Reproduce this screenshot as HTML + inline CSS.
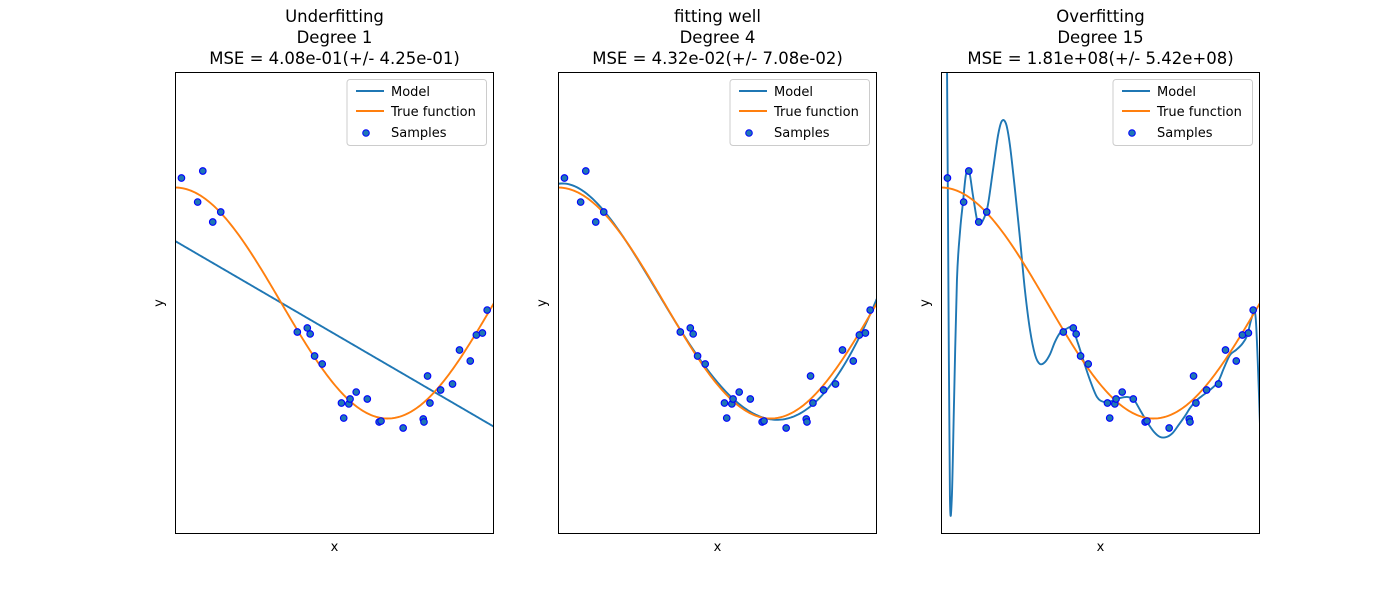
<!DOCTYPE html>
<html><head><meta charset="utf-8"><style>
body{margin:0;background:#fff;}
svg{display:block;font-family:"DejaVu Sans","Liberation Sans",sans-serif;}
</style></head><body>
<svg id="chart" width="1400" height="600"></svg>
<script>
const sampleX=[0.0202,0.0710,0.0871,0.1183,0.1434,0.3834,0.4147,0.4237,0.4376,0.4615,0.5218,0.5289,0.5449,0.5488,0.5680,0.6028,0.6399,0.6459,0.7152,0.7782,0.7805,0.7917,0.7992,0.8326,0.8700,0.8918,0.9256,0.9447,0.9637,0.9786];
const sampleY=[1.082,0.874,1.143,0.701,0.788,-0.251,-0.216,-0.268,-0.459,-0.528,-0.866,-0.996,-0.874,-0.831,-0.771,-0.831,-1.030,-1.022,-1.082,-1.004,-1.030,-0.632,-0.866,-0.753,-0.701,-0.407,-0.502,-0.277,-0.260,-0.061];
const degrees=[1,4,15];
const panelTitles=["Underfitting","fitting well","Overfitting"];
const mseLabels=["MSE = 4.08e-01(+/- 4.25e-01)","MSE = 4.32e-02(+/- 7.08e-02)","MSE = 1.81e+08(+/- 5.42e+08)"];
const deg15X=[0.016,0.019,0.0235,0.028,0.034,0.041,0.050,0.060,0.069,0.078,0.088,0.100,0.113,0.122,0.135,0.147,0.163,0.179,0.191,0.204,0.216,0.232,0.248,0.263,0.279,0.295,0.310,0.326,0.342,0.357,0.373,0.392,0.411,0.429,0.448,0.467,0.489,0.511,0.536,0.561,0.586,0.605,0.624,0.646,0.668,0.687,0.707,0.726,0.745,0.765,0.781,0.799,0.818,0.843,0.868,0.887,0.906,0.925,0.944,0.959,0.972,0.981,0.987,0.994,1.0];
const deg15Y=[2.28,2.0,0.026,-1.68,-1.68,-0.84,0.20,0.63,0.874,1.108,1.143,0.935,0.719,0.684,0.736,0.848,1.152,1.455,1.576,1.55,1.368,0.978,0.545,0.113,-0.234,-0.45,-0.528,-0.511,-0.442,-0.338,-0.26,-0.225,-0.216,-0.346,-0.511,-0.667,-0.814,-0.857,-0.848,-0.823,-0.814,-0.84,-0.926,-1.03,-1.117,-1.16,-1.16,-1.126,-1.056,-0.978,-0.909,-0.848,-0.805,-0.753,-0.684,-0.563,-0.45,-0.407,-0.355,-0.286,-0.147,-0.078,-0.147,-0.58,-1.056];

const NS="http://www.w3.org/2000/svg";
const svg=document.getElementById('chart');
function mk(tag,attrs,parent){const e=document.createElementNS(NS,tag);for(const k in attrs)e.setAttribute(k,attrs[k]);(parent||svg).appendChild(e);return e;}
function polyfit(xs,ys,d){
  const n=d+1,A=[],b=[];
  for(let i=0;i<n;i++){A.push(new Array(n).fill(0));b.push(0);}
  xs.forEach((x,k)=>{for(let i=0;i<n;i++){b[i]+=Math.pow(x,i)*ys[k];for(let j=0;j<n;j++)A[i][j]+=Math.pow(x,i+j);}});
  for(let i=0;i<n;i++){let p=i;for(let r=i+1;r<n;r++)if(Math.abs(A[r][i])>Math.abs(A[p][i]))p=r;
    [A[i],A[p]]=[A[p],A[i]];[b[i],b[p]]=[b[p],b[i]];
    for(let r=i+1;r<n;r++){const f=A[r][i]/A[i][i];for(let c=i;c<n;c++)A[r][c]-=f*A[i][c];b[r]-=f*b[i];}}
  const c=new Array(n).fill(0);
  for(let i=n-1;i>=0;i--){let s=b[i];for(let j=i+1;j<n;j++)s-=A[i][j]*c[j];c[i]=s/A[i][i];}
  return x=>c.reduce((s,ci,i)=>s+ci*Math.pow(x,i),0);
}
function smoothPath(P){
  let d='M'+P[0][0]+','+P[0][1];
  for(let i=0;i<P.length-1;i++){
    const p0=P[Math.max(0,i-1)],p1=P[i],p2=P[i+1],p3=P[Math.min(P.length-1,i+2)];
    const c1=[p1[0]+(p2[0]-p0[0])/6,p1[1]+(p2[1]-p0[1])/6];
    const c2=[p2[0]-(p3[0]-p1[0])/6,p2[1]-(p3[1]-p1[1])/6];
    d+=' C'+c1[0]+','+c1[1]+' '+c2[0]+','+c2[1]+' '+p2[0]+','+p2[1];
  }
  return d;
}
const lefts=[175,558,941],W=319,T=72,H=462;
lefts.forEach((L,p)=>{
  const g=mk('g',{});
  
  
  const xs=x=>L+x*W, ys=y=>T+(2-y)/4*H;
  const cp=mk('clipPath',{id:'cp'+p},g);mk('rect',{x:L,y:T,width:W,height:H},cp);
  const plot=mk('g',{'clip-path':'url(#cp'+p+')'},g);
  let model;
  if(degrees[p]===15){
    const P=deg15X.map((x,i)=>[xs(x),ys(deg15Y[i])]);
    model=mk('path',{d:smoothPath(P),fill:'none',stroke:'#1f77b4','stroke-width':1.9},plot);
  } else {
    const pts=[];const f=polyfit(sampleX,sampleY,degrees[p]);
    for(let i=0;i<=200;i++){const x=i/200;pts.push(xs(x)+','+ys(f(x)));}
    model=mk('polyline',{points:pts.join(' '),fill:'none',stroke:'#1f77b4','stroke-width':1.9},plot);
  }
  
  
  const tp=[];for(let i=0;i<=200;i++){const x=i/200;tp.push(xs(x)+','+ys(Math.cos(1.5*Math.PI*x)));}
  const tf=mk('polyline',{points:tp.join(' '),fill:'none',stroke:'#ff7f0e','stroke-width':1.9},plot);
  
  
  sampleX.forEach((x,i)=>{const c=mk('circle',{cx:xs(x),cy:ys(sampleY[i]),r:3.3,fill:'#1f77b4',stroke:'#0000ff','stroke-width':1.1},plot);
    
    });
  const fr=mk('rect',{x:L+0.5,y:T+0.5,width:W-1,height:H-1,fill:'none',stroke:'#000','stroke-width':1},g);
  
  
  [panelTitles[p],'Degree '+degrees[p],mseLabels[p]].forEach((t,i)=>{const e=mk('text',{x:L+W/2,y:22+i*21,'text-anchor':'middle','font-size':16.5},g);e.textContent=t;
    
    });
  const xl=mk('text',{x:L+W/2,y:551,'text-anchor':'middle','font-size':13},g);xl.textContent='x';
  
  
  const yl=mk('text',{x:0,y:0,'text-anchor':'middle','font-size':13,transform:'translate('+(L-12)+','+(T+H/2)+') rotate(-90)'},g);yl.textContent='y';
  
  
  const lg=mk('g',{},g);
  
  
  const lx=L+W-147;
  mk('rect',{x:lx,y:79.5,width:139.5,height:66,rx:3,fill:'#fff','fill-opacity':0.8,stroke:'#ccc'},lg);
  mk('line',{x1:lx+9,x2:lx+37,y1:91,y2:91,stroke:'#1f77b4','stroke-width':1.9},lg);
  mk('line',{x1:lx+9,x2:lx+37,y1:111,y2:111,stroke:'#ff7f0e','stroke-width':1.9},lg);
  mk('circle',{cx:lx+19,cy:133,r:3.3,fill:'#1f77b4',stroke:'#0000ff'},lg);
  [['Model',96],['True function',116],['Samples',137]].forEach(([t,y])=>{const e=mk('text',{x:lx+44,y:y,'font-size':13},lg);e.textContent=t;
    
    });
});
</script>
</body></html>
